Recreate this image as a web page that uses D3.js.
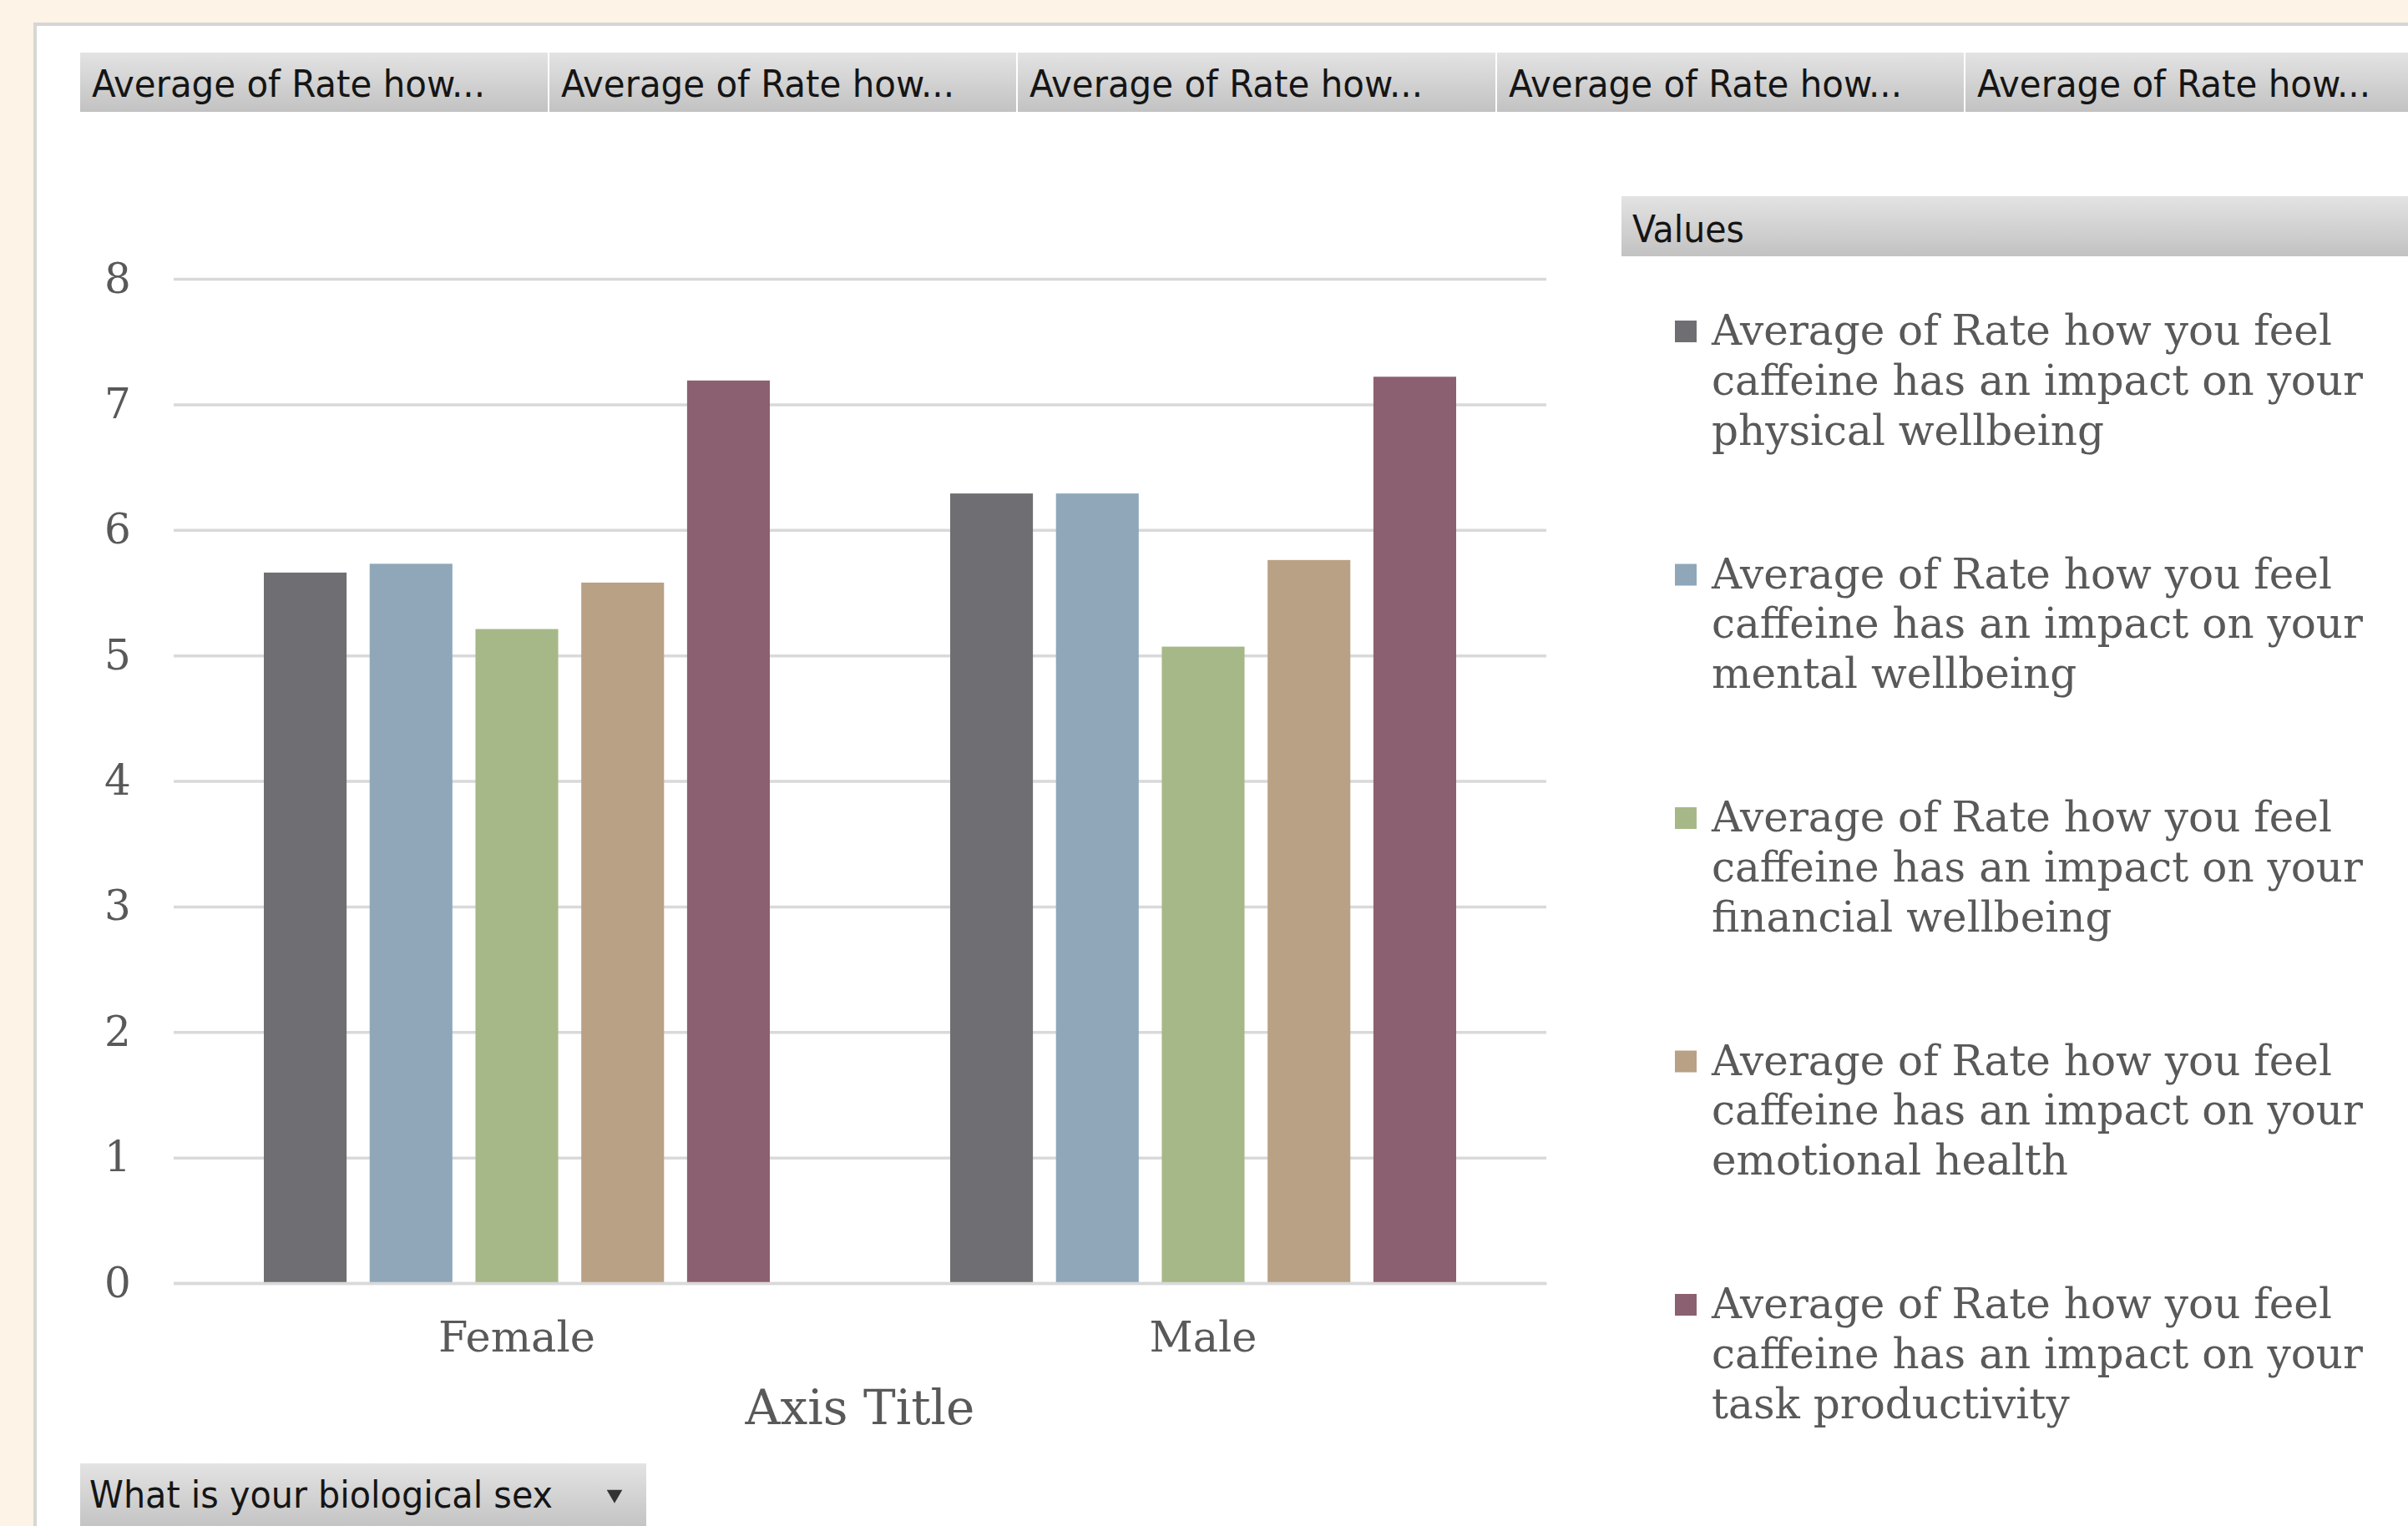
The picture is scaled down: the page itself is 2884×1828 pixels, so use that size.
<!DOCTYPE html>
<html>
<head>
    <meta charset="utf-8">
    <title>Caffeine impact by biological sex</title>
    <script src="https://d3js.org/d3.v7.min.js"></script>
    <style>
        body { margin: 0; background: #fdf3e6; }
        svg { display: block; }
    </style>
</head>

<body>
<div id="chart"></div>
<script type="text/javascript">

    // data
    let categories = ["Female", "Male"];
    let femaleValues = [5.66, 5.73, 5.21, 5.58, 7.19];
    let maleValues = [6.29, 6.29, 5.07, 5.76, 7.22];
    let seriesColors = ["#6f6e73", "#8fa7b9", "#a6b888", "#b9a185", "#8b6071"];
    let legendLines = [
        ["Average of Rate how you feel", "caffeine has an impact on your", "physical wellbeing"],
        ["Average of Rate how you feel", "caffeine has an impact on your", "mental wellbeing"],
        ["Average of Rate how you feel", "caffeine has an impact on your", "financial wellbeing"],
        ["Average of Rate how you feel", "caffeine has an impact on your", "emotional health"],
        ["Average of Rate how you feel", "caffeine has an impact on your", "task productivity"]
    ];
    let yTicks = [0, 1, 2, 3, 4, 5, 6, 7, 8];
    let fieldButtons = ["Average of Rate how...", "Average of Rate how...", "Average of Rate how...",
                        "Average of Rate how...", "Average of Rate how..."];
    let axisFieldButton = "What is your biological sex";

    let W = 2884, H = 1828;
    let plot = {left: 208, right: 1852, top: 334, bottom: 1537};
    let serif = "'DejaVu Serif', 'Liberation Serif', serif";
    let sans = "'DejaVu Sans', 'Liberation Sans', sans-serif";
    let grey = "#595959";

    let svg = d3.select("#chart")
        .append("svg")
            .attr("width", W)
            .attr("height", H);

    let defs = svg.append("defs");
    let grad = defs.append("linearGradient")
        .attr("id", "btn")
        .attr("x1", 0).attr("y1", 0).attr("x2", 0).attr("y2", 1);
    grad.append("stop").attr("offset", "0%").attr("stop-color", "#e3e3e3");
    grad.append("stop").attr("offset", "100%").attr("stop-color", "#c2c2c2");

    // white chart panel
    svg.append("rect")
        .attr("x", 42).attr("y", 29)
        .attr("width", W).attr("height", H)
        .attr("fill", "#ffffff")
        .attr("stroke", "#d6d6d6")
        .attr("stroke-width", 4);

    // field buttons across the top
    let btnEdges = [96, 658, 1219, 1793, 2354, 2890];
    let topBtns = svg.append("g");
    topBtns.selectAll("rect")
        .data(fieldButtons)
        .enter()
        .append("rect")
        .attr("x", function(d, i) { return btnEdges[i]; })
        .attr("y", 63)
        .attr("width", function(d, i) { return btnEdges[i + 1] - btnEdges[i] - 2; })
        .attr("height", 71)
        .attr("fill", "url(#btn)");
    topBtns.selectAll("text")
        .data(fieldButtons)
        .enter()
        .append("text")
        .attr("x", function(d, i) { return btnEdges[i] + 14; })
        .attr("y", 116)
        .attr("font-family", sans)
        .attr("font-stretch", "condensed")
        .attr("font-size", 45)
        .attr("fill", "#151515")
        .attr("textLength", 471)
        .attr("lengthAdjust", "spacingAndGlyphs")
        .text(function(d) { return d; });

    // scales
    let x0 = d3.scaleBand()
        .domain(categories)
        .range([plot.left, plot.right]);

    let groupPad = 108;
    let x1 = d3.scaleBand()
        .domain(d3.range(legendLines.length))
        .range([groupPad, x0.bandwidth() - groupPad])
        .paddingInner(0.218);

    let yScale = d3.scaleLinear()
        .domain([0, 8])
        .range([plot.bottom, plot.top]);

    // y axis with gridlines
    let yAxis = d3.axisLeft(yScale)
        .tickValues(yTicks)
        .tickSize(-(plot.right - plot.left))
        .tickPadding(67);

    let yG = svg.append("g")
        .attr("transform", "translate(" + plot.left + ",0)")
        .call(yAxis);
    yG.select(".domain").remove();
    yG.selectAll(".tick line")
        .attr("stroke", "#d9d9d9")
        .attr("stroke-width", 3.5);
    yG.selectAll(".tick text")
        .attr("text-anchor", "middle")
        .attr("font-family", serif)
        .attr("font-size", 50)
        .attr("fill", grey);

    // bars
    let rows = categories.map(function(c, i) {
        return {cat: c, values: i === 0 ? femaleValues : maleValues};
    });

    let groups = svg.selectAll(".group")
        .data(rows)
        .enter()
        .append("g")
        .attr("class", "group")
        .attr("transform", function(d) { return "translate(" + x0(d.cat) + ",0)"; });

    groups.selectAll("rect")
        .data(function(d) { return d.values; })
        .enter()
        .append("rect")
        .attr("x", function(d, i) { return x1(i); })
        .attr("y", function(d) { return yScale(d); })
        .attr("width", x1.bandwidth())
        .attr("height", function(d) { return plot.bottom - yScale(d); })
        .attr("fill", function(d, i) { return seriesColors[i]; });

    // x axis
    let xAxis = d3.axisBottom(x0)
        .tickSize(0)
        .tickPadding(46);

    let xG = svg.append("g")
        .attr("transform", "translate(0," + plot.bottom + ")")
        .call(xAxis);
    xG.select(".domain")
        .attr("stroke", "#d9d9d9")
        .attr("stroke-width", 3.5);
    xG.selectAll(".tick text")
        .attr("font-family", serif)
        .attr("font-size", 51)
        .attr("fill", grey);

    svg.append("text")
        .attr("x", (plot.left + plot.right) / 2)
        .attr("y", 1706)
        .attr("text-anchor", "middle")
        .attr("font-family", serif)
        .attr("font-size", 58)
        .attr("fill", grey)
        .text("Axis Title");

    // legend
    svg.append("rect")
        .attr("x", 1942).attr("y", 235)
        .attr("width", W - 1942).attr("height", 72)
        .attr("fill", "url(#btn)");
    svg.append("text")
        .attr("x", 1955).attr("y", 290)
        .attr("font-family", sans)
        .attr("font-stretch", "condensed")
        .attr("font-size", 45)
        .attr("fill", "#151515")
        .attr("textLength", 134)
        .attr("lengthAdjust", "spacingAndGlyphs")
        .text("Values");

    let legend = svg.selectAll(".legend")
        .data(legendLines)
        .enter()
        .append("g")
        .attr("class", "legend")
        .attr("transform", function(d, i) { return "translate(2006," + (384 + i * 291.5) + ")"; });

    legend.append("rect")
        .attr("width", 26)
        .attr("height", 26)
        .attr("fill", function(d, i) { return seriesColors[i]; });

    legend.append("text")
        .attr("x", 44)
        .attr("font-family", serif)
        .attr("font-size", 50)
        .attr("fill", grey)
        .selectAll("tspan")
        .data(function(d) { return d; })
        .enter()
        .append("tspan")
        .attr("x", 44)
        .attr("y", function(d, j) { return 29 + j * 59.8; })
        .text(function(d) { return d; });

    // field button under the axis
    svg.append("rect")
        .attr("x", 96).attr("y", 1753)
        .attr("width", 678).attr("height", 80)
        .attr("fill", "url(#btn)");
    svg.append("text")
        .attr("x", 107).attr("y", 1806)
        .attr("font-family", sans)
        .attr("font-stretch", "condensed")
        .attr("font-size", 45)
        .attr("fill", "#151515")
        .attr("textLength", 555)
        .attr("lengthAdjust", "spacingAndGlyphs")
        .text(axisFieldButton);
    svg.append("path")
        .attr("d", d3.symbol(d3.symbolTriangle, 150)())
        .attr("transform", "translate(736,1790) rotate(180)")
        .attr("fill", "#333333");

</script>
</body>
</html>
